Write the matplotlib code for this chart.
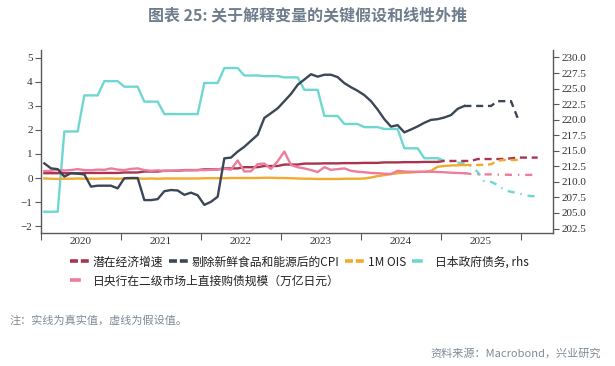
import numpy as np
import pandas as pd
import matplotlib
matplotlib.use('Agg')
import matplotlib.pyplot as plt
from matplotlib.lines import Line2D

plt.rcParams['font.family'] = ['Noto Sans CJK SC', 'DejaVu Sans']

# 数据 (月度, 2020-01 起)
start_actual = '2020-01'

potential_growth = [0.2] * 6 + [0.21] * 6 + [0.23] * 3 + [0.27] * 3 + [0.3] * 3 + [0.33] * 3 \
    + [0.36] * 3 + [0.4] * 3 + [0.45] * 3 + [0.5] * 3 + [0.56] * 3 + [0.6] * 3 \
    + [0.61] * 3 + [0.62] * 3 + [0.63] * 3 + [0.65] * 3 + [0.66] * 3 + [0.67] * 3

core_cpi = [0.61, 0.40, 0.37, 0.06, 0.20, 0.18, 0.15, -0.36, -0.32, -0.32, -0.32, -0.43,
            -0.01, 0.0, 0.0, -0.92, -0.92, -0.88, -0.55, -0.5, -0.52, -0.7, -0.61, -0.72,
            -1.12, -0.99, -0.78, 0.82, 0.85, 1.1, 1.3, 1.55, 1.8, 2.5, 2.7, 2.9,
            3.2, 3.5, 3.88, 4.1, 4.32, 4.22, 4.3, 4.3, 4.2, 3.95, 3.78, 3.63,
            3.45, 3.2, 2.85, 2.45, 2.14, 2.2, 1.9, 2.02, 2.15, 2.3, 2.42, 2.45,
            2.52, 2.62, 2.88, 3.0]

ois_1m = [-0.02, -0.03, -0.04, -0.03, -0.03, -0.02, -0.03, -0.03, -0.03, -0.02, -0.02, -0.03,
          -0.02, -0.02, -0.02, -0.03, -0.02, -0.03, -0.02, -0.02, -0.02, -0.02, -0.02, -0.02,
          -0.01, -0.01, -0.01, -0.01, 0.0, 0.0, 0.0, 0.0, 0.0, 0.01, 0.01, 0.0,
          0.0, -0.01, -0.02, -0.03, -0.03, -0.04, -0.04, -0.04, -0.04, -0.03, -0.03, -0.03,
          -0.02, 0.02, 0.08, 0.12, 0.16, 0.2, 0.22, 0.23, 0.25, 0.26, 0.3, 0.47,
          0.5, 0.52, 0.53, 0.54]

jgb_debt = [205.2, 205.2, 205.2, 218.1, 218.1, 218.1, 223.9, 223.9, 223.9, 226.2, 226.2, 226.2,
            225.3, 225.3, 225.3, 222.9, 222.9, 222.9, 220.9, 220.9, 220.9, 220.9, 220.9, 220.9,
            225.9, 225.9, 225.9, 228.3, 228.3, 228.3, 227.1, 227.1, 227.1, 227.0, 227.0, 227.0,
            226.8, 226.8, 226.8, 224.8, 224.8, 224.8, 220.6, 220.6, 220.6, 219.3, 219.3, 219.3,
            218.8, 218.8, 218.8, 218.5, 218.5, 218.5, 215.4, 215.4, 215.4, 213.8, 213.8, 213.8]

boj_purchase = [0.29, 0.3, 0.33, 0.31, 0.33, 0.37, 0.33, 0.32, 0.35, 0.34, 0.4, 0.35,
                0.33, 0.38, 0.4, 0.33, 0.3, 0.32, 0.29, 0.3, 0.31, 0.32, 0.32, 0.33,
                0.33, 0.34, 0.36, 0.38, 0.35, 0.73, 0.27, 0.28, 0.58, 0.6, 0.38, 0.7,
                1.1, 0.54, 0.45, 0.4, 0.33, 0.25, 0.45, 0.34, 0.37, 0.4, 0.3, 0.26,
                0.24, 0.21, 0.2, 0.18, 0.17, 0.3, 0.27, 0.26, 0.26, 0.26, 0.26, 0.25,
                0.24, 0.22, 0.21, 0.2]

# 假设值 (从最后一个真实值开始)
potential_proj_start = '2024-12'
potential_growth_proj = [0.67, 0.71, 0.71, 0.71, 0.71, 0.71, 0.79, 0.79, 0.79, 0.79, 0.79,
                         0.82, 0.85, 0.85, 0.85, 0.85]
cpi_proj_start = '2025-04'
core_cpi_proj = [3.0, 3.0, 3.0, 3.0, 3.0, 3.2, 3.2, 3.2, 2.5]
ois_proj_start = '2025-04'
ois_1m_proj = [0.54, 0.54, 0.54, 0.55, 0.57, 0.72, 0.75, 0.75, 0.75]
jgb_proj_start = '2024-12'
jgb_debt_proj = [213.8, 213.4, 213.3, 213.1, 213.0, 212.5, 211.6, 210.0, 210.0, 209.5,
                 208.7, 208.4, 208.2, 207.9, 207.7, 207.7]
boj_proj_start = '2025-04'
boj_purchase_proj = [0.2, 0.17, 0.16, 0.15, 0.15, 0.14, 0.14, 0.13, 0.13, 0.13, 0.13, 0.13]

labels = ['潜在经济增速', '剔除新鲜食品和能源后的CPI', '1M OIS', '日本政府债务, rhs',
          '日央行在二级市场上直接购债规模（万亿日元）']
colors = ['#A8344E', '#3B4656', '#F2AA2E', '#6ED8D0', '#EC7D9C']
years = ['2020', '2021', '2022', '2023', '2024', '2025']


def month_x(start, n):
    p = pd.period_range(start, periods=n, freq='M')
    return p.year + (p.month - 0.5) / 12


fig = plt.figure(figsize=(6.15, 3.66), dpi=100)
ax = fig.add_axes([41 / 615, 1 - 233 / 366, 512 / 615, 183 / 366])
ax2 = ax.twinx()

lw = 1.7
dash = (0, (3, 2))
dashdot = (0, (3, 2.5, 0.6, 2.5))

ax.plot(month_x(start_actual, len(potential_growth)), potential_growth, color=colors[0], lw=lw)
ax.plot(month_x(potential_proj_start, len(potential_growth_proj)), potential_growth_proj,
        color=colors[0], lw=lw, ls=dash)
ax.plot(month_x(start_actual, len(ois_1m)), ois_1m, color=colors[2], lw=lw)
ax.plot(month_x(ois_proj_start, len(ois_1m_proj)), ois_1m_proj, color=colors[2], lw=lw, ls=dash)
ax.plot(month_x(start_actual, len(boj_purchase)), boj_purchase, color=colors[4], lw=lw)
ax.plot(month_x(boj_proj_start, len(boj_purchase_proj)), boj_purchase_proj,
        color=colors[4], lw=lw, ls=dashdot)
ax.plot(month_x(start_actual, len(core_cpi)), core_cpi, color=colors[1], lw=lw)
ax.plot(month_x(cpi_proj_start, len(core_cpi_proj)), core_cpi_proj, color=colors[1], lw=lw, ls=dash)

ax2.plot(month_x(start_actual, len(jgb_debt)), jgb_debt, color=colors[3], lw=lw)
ax2.plot(month_x(jgb_proj_start, len(jgb_debt_proj)), jgb_debt_proj, color=colors[3], lw=lw, ls=dashdot)
ax.set_zorder(ax2.get_zorder() + 1)
ax.patch.set_visible(False)

ax.set_xlim(2020.0, 2026.4)
ax.set_ylim(-2.29, 5.33)
ax2.set_ylim(201.78, 231.2)

ax.set_yticks(range(-2, 6))
ax2.set_yticks(np.arange(202.5, 230.1, 2.5))
ax2.set_yticklabels([f'{v:.1f}' for v in np.arange(202.5, 230.1, 2.5)])
ax.set_xticks(range(2020, 2027))
ax.set_xticklabels([])
ax.set_xticks([int(y) + 0.5 for y in years], minor=True)
ax.set_xticklabels(years, minor=True)

axis_color = '#595959'
for a in (ax, ax2):
    a.spines['top'].set_visible(False)
    for s in a.spines.values():
        s.set_color(axis_color)
        s.set_linewidth(1.0)
ax.spines['right'].set_visible(False)
ax2.spines['left'].set_visible(False)
ax2.spines['bottom'].set_visible(False)

ax.tick_params(axis='y', direction='out', length=4, color=axis_color, labelsize=8,
               labelcolor='#333333', pad=2)
ax2.tick_params(axis='y', direction='out', length=4, color=axis_color, labelsize=8,
                labelcolor='#333333', pad=2)
ax.tick_params(axis='x', which='major', direction='out', length=5, color=axis_color)
ax.tick_params(axis='x', which='minor', length=0, labelsize=8, labelcolor='#333333', pad=3)
for t in ax.get_yticklabels() + ax2.get_yticklabels() + ax.get_xticklabels(minor=True):
    t.set_fontfamily('Liberation Serif')

handles = []
for i, c in enumerate(colors):
    style = dashdot if i >= 3 else (0, (2.2, 0.8))
    handles.append(Line2D([], [], color=c, lw=2.6, ls=style))

fig.legend(handles[:4], labels[:4], loc='center left', bbox_to_anchor=(70 / 615, 1 - 262 / 366),
           ncol=4, frameon=False, fontsize=8.5, handlelength=1.6, handletextpad=0.35,
           columnspacing=0.45, borderpad=0, borderaxespad=0, labelcolor='#222222')
fig.legend(handles[4:], labels[4:], loc='center left', bbox_to_anchor=(70 / 615, 1 - 281 / 366),
           frameon=False, fontsize=8.5, handlelength=1.6, handletextpad=0.35,
           borderpad=0, borderaxespad=0, labelcolor='#222222')

fig.text(0.5, 1 - 15 / 366, '图表 25: 关于解释变量的关键假设和线性外推', ha='center', va='center',
         fontsize=11.5, fontweight='bold', color='#6E7C8C')
fig.text(10 / 615, 1 - 320 / 366, '注：实线为真实值，虚线为假设值。', ha='left', va='center',
         fontsize=8, color='#7F8A96')
fig.text(601 / 615, 1 - 353 / 366, '资料来源：Macrobond，兴业研究', ha='right', va='center',
         fontsize=8, color='#7F8A96')

fig.savefig('out.png', dpi=100)
